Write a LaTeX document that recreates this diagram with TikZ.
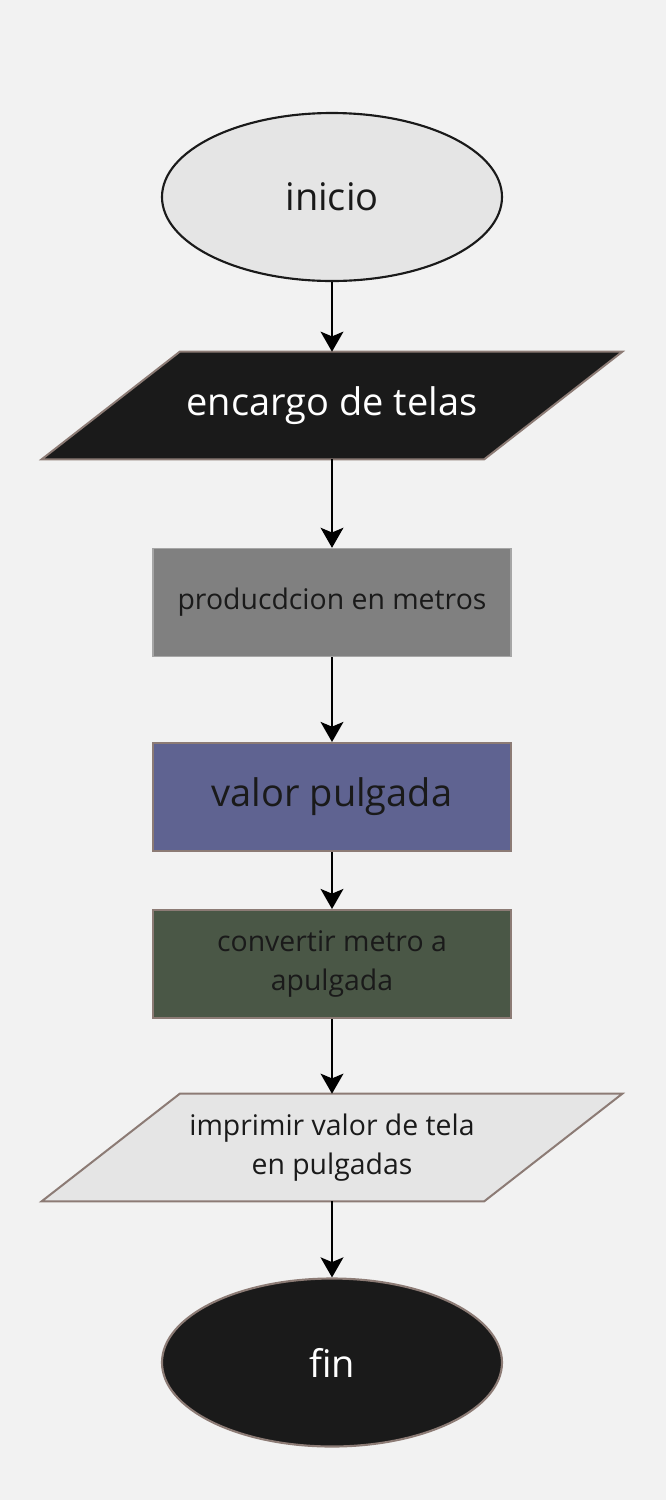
\documentclass[tikz,border=0pt]{standalone}
\usepackage{fontspec}
\setmainfont{Open Sans}
\usetikzlibrary{shapes.geometric,arrows.meta,backgrounds}
\definecolor{bgcol}{HTML}{F2F2F2}
\definecolor{lightfill}{HTML}{E5E5E5}
\definecolor{darkfill}{HTML}{1A1A1A}
\definecolor{brownline}{HTML}{8C7B75}
\definecolor{midgray}{HTML}{808080}
\definecolor{grayline}{HTML}{A6A6A6}
\definecolor{bluefill}{HTML}{5F6391}
\definecolor{greenfill}{HTML}{4A5746}

\begin{document}
\begin{tikzpicture}[x=0.75pt,y=-0.75pt,
    term/.style={ellipse,minimum width=255pt,minimum height=126pt,line width=1.6pt},
    io/.style={rectangle,minimum width=331.5pt,minimum height=80.25pt,align=center},
    slant/.style={line width=1.5pt,draw=brownline},
    proc/.style={rectangle,minimum width=268.5pt,minimum height=81pt,line width=1.5pt,draw=brownline,align=center},
    big/.style={font=\fontsize{28.5}{34}\selectfont},
    small/.style={font=\fontsize{21.3}{29}\selectfont},
    flow/.style={-{Stealth[width=17pt,length=15pt,inset=3.5pt]},line width=2.2pt}]
    \node[term,draw=darkfill,fill=lightfill,text=darkfill,big] (inicio) at (332,197) {inicio};
    \node[io,text=white,big] (encargo) at (332,405.5) {encargo de telas};
    \node[proc,draw=grayline,line width=1pt,fill=midgray,text=darkfill,small] (produccion) at (332,602.5) {producdcion en metros};
    \node[proc,fill=bluefill,text=darkfill,big] (valor) at (332,797) {valor pulgada};
    \node[proc,fill=greenfill,text=darkfill,small] (convertir) at (332,964) {convertir metro a\\apulgada};
    \node[io,text=darkfill,small] (imprimir) at (332,1147.5) {imprimir valor de tela\\en pulgadas};
    \node[term,draw=brownline,fill=darkfill,text=white,big] (fin) at (332,1362.5) {fin};
    \begin{scope}[on background layer]
        \fill [bgcol] (0,0) rectangle (666,1500);
        \draw [slant,fill=darkfill] ([xshift=51.75pt]encargo.north west)--([xshift=51.75pt]encargo.north east)
            --([xshift=-51.75pt]encargo.south east)--([xshift=-51.75pt]encargo.south west)--cycle;
        \draw [slant,fill=lightfill] ([xshift=51.75pt]imprimir.north west)--([xshift=51.75pt]imprimir.north east)
            --([xshift=-51.75pt]imprimir.south east)--([xshift=-51.75pt]imprimir.south west)--cycle;
    \end{scope}
    \draw [flow] (inicio)--(encargo);
    \draw [flow] (encargo)--(produccion);
    \draw [flow] (produccion)--(valor);
    \draw [flow] (valor)--(convertir);
    \draw [flow] (convertir)--(imprimir);
    \draw [flow] (imprimir)--(fin);
\end{tikzpicture}
\end{document}
